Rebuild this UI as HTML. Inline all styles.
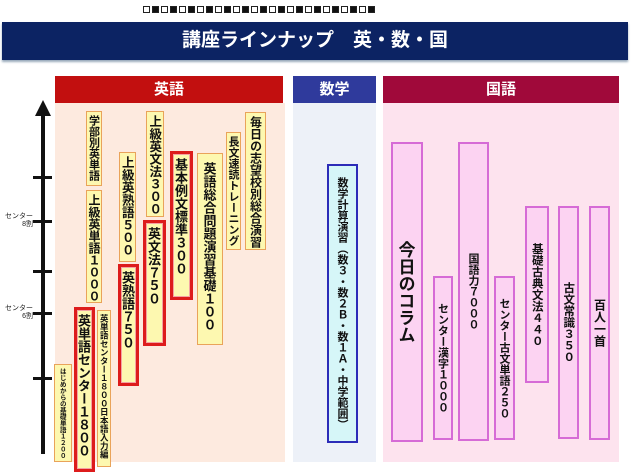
<!DOCTYPE html>
<html><head><meta charset="utf-8">
<style>
*{margin:0;padding:0;box-sizing:border-box}
body{width:631px;height:470px;background:#fff;position:relative;overflow:hidden;font-family:"Liberation Sans","Noto Sans CJK JP",sans-serif}
.a{position:absolute}
.sq{position:absolute;top:6px;width:7px;height:7px;border:1px solid #222}
.sq.f{background:#111}
.v{position:absolute;writing-mode:vertical-rl;text-orientation:upright;font-weight:bold;color:#111;display:flex;align-items:center;line-height:1;white-space:nowrap;overflow:hidden;font-family:"Noto Sans CJK JP",sans-serif}
.y{background:#fdf8b0;border:1.5px solid #e9a35a;justify-content:flex-start;padding-top:3px}
.r{background:#fdf8b0;border:3px solid #dd1c1c;box-shadow:inset 0 0 0 1px #f4a3a3;justify-content:flex-start;padding-top:4px}
.p{background:#fcd3f2;border:2px solid #d66bd6;justify-content:center}
.tick{position:absolute;left:33px;width:19px;height:3px;background:#111}
.lab{position:absolute;font-size:7px;color:#222;text-align:right;width:30px;left:3px;line-height:8px}
</style></head><body>
<div id="sqs"></div>
<div class="a" style="left:2px;top:22px;width:626px;height:38px;background:#0c2363;box-shadow:0 2px 2px #9ab"></div>
<div class="a" style="left:2px;top:22px;width:626px;height:38px;color:#fff;font-weight:bold;font-size:19px;text-align:center;line-height:38px">講座ラインナップ　英・数・国</div>

<div class="a" style="left:55px;top:76px;width:228px;height:27px;background:#c20f0f;color:#fff;font-weight:bold;font-size:15px;text-align:center;line-height:27px">英語</div>
<div class="a" style="left:293px;top:76px;width:83px;height:27px;background:#2f3a9c;color:#fff;font-weight:bold;font-size:15px;text-align:center;line-height:27px">数学</div>
<div class="a" style="left:383px;top:76px;width:236px;height:27px;background:#a0093a;color:#fff;font-weight:bold;font-size:15px;text-align:center;line-height:27px">国語</div>

<div class="a" style="left:55px;top:103px;width:230px;height:359px;background:#fdeadf"></div>
<div class="a" style="left:293px;top:103px;width:83px;height:359px;background:#edf1f8"></div>
<div class="a" style="left:383px;top:103px;width:236px;height:359px;background:#fde3ee"></div>

<!-- axis -->
<div class="a" style="left:41px;top:112px;width:4px;height:342px;background:#111"></div>
<div class="a" style="left:35px;top:100px;width:0;height:0;border-left:8px solid transparent;border-right:8px solid transparent;border-bottom:16px solid #111"></div>
<div class="tick" style="top:176px"></div>
<div class="tick" style="top:220px"></div>
<div class="tick" style="top:270px"></div>
<div class="tick" style="top:312px"></div>
<div class="tick" style="top:377px"></div>
<div class="lab" style="top:213px">センター<br>8割</div>
<div class="lab" style="top:305px">センター<br>6割</div>

<!-- English -->
<div class="v y" style="left:86px;top:111px;width:16px;height:75px;font-size:11px">学部別英単語</div>
<div class="v y" style="left:86px;top:190px;width:16px;height:113px;font-size:12px">上級英単語１０００</div>
<div class="v y" style="left:54px;top:364px;width:18px;height:98px;font-size:6.5px">はじめからの基礎単語１２００</div>
<div class="v r" style="left:74px;top:307px;width:21px;height:165px;font-size:13px">英単語センター１８００</div>
<div class="v y" style="left:97px;top:310px;width:14px;height:157px;font-size:8.5px">英単語センター１８００日本語入力編</div>
<div class="v y" style="left:119px;top:152px;width:17px;height:110px;font-size:12.5px">上級英熟語５００</div>
<div class="v r" style="left:118px;top:264px;width:21px;height:122px;font-size:13px">英熟語７５０</div>
<div class="v y" style="left:146px;top:111px;width:18px;height:106px;font-size:12.5px">上級英文法３００</div>
<div class="v r" style="left:143px;top:220px;width:23px;height:126px;font-size:13px">英文法７５０</div>
<div class="v r" style="left:170px;top:151px;width:23px;height:149px;font-size:13px">基本例文標準３００</div>
<div class="v y" style="left:197px;top:153px;width:26px;height:192px;font-size:13px;padding-top:8px">英語総合問題演習基礎１００</div>
<div class="v y" style="left:226px;top:132px;width:15px;height:118px;font-size:11px">長文速読トレーニング</div>
<div class="v y" style="left:245px;top:112px;width:21px;height:138px;font-size:12px">毎日の志望校別総合演習</div>

<!-- Math -->
<div class="v" style="left:327px;top:164px;width:31px;height:279px;background:#d6f6f8;border:2px solid #2c2cb8;justify-content:center;font-size:11px">数学計算演習（数３・数２Ｂ・数１Ａ・中学範囲）</div>

<!-- Japanese -->
<div class="v p" style="left:391px;top:142px;width:32px;height:300px;font-size:17px">今日のコラム</div>
<div class="v p" style="left:433px;top:276px;width:20px;height:164px;font-size:11px">センター漢字１０００</div>
<div class="v p" style="left:458px;top:142px;width:31px;height:299px;font-size:11px">国語力７０００</div>
<div class="v p" style="left:494px;top:276px;width:21px;height:164px;font-size:11px">センター古文単語２５０</div>
<div class="v p" style="left:525px;top:206px;width:24px;height:177px;font-size:11.5px">基礎古典文法４４０</div>
<div class="v p" style="left:558px;top:206px;width:21px;height:233px;font-size:11.5px">古文常識３５０</div>
<div class="v p" style="left:589px;top:206px;width:21px;height:234px;font-size:12px">百人一首</div>

<script>
var s='';for(var i=0;i<26;i++){s+='<div class="sq'+(i%2?' f':'')+'" style="left:'+(143+i*9)+'px"></div>';}
document.getElementById('sqs').innerHTML=s;
</script>
</body></html>
